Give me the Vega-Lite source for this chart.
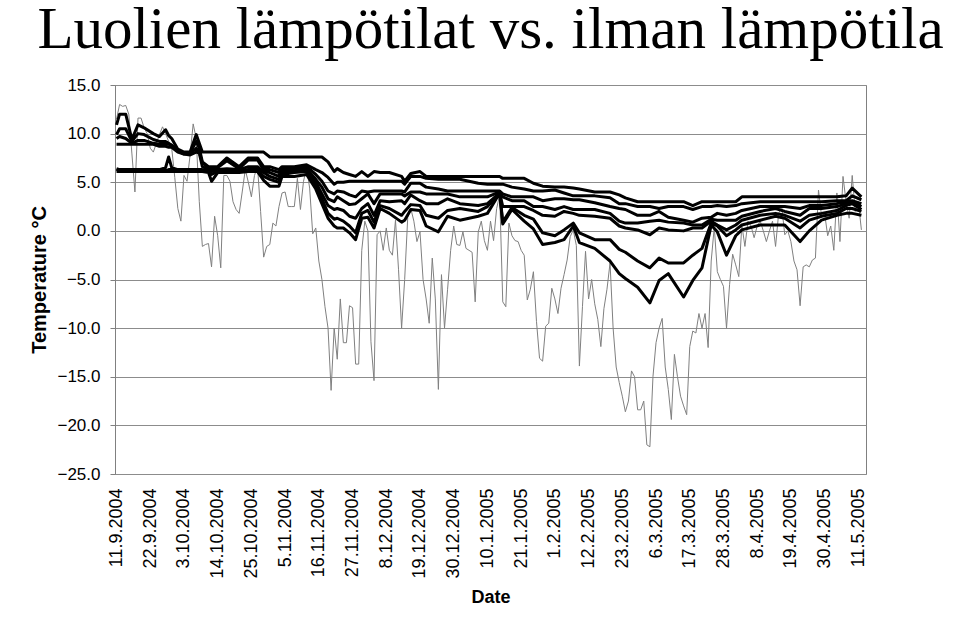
{
"$schema": "https://vega.github.io/schema/vega-lite/v6.json",
"width": 751, "height": 389,
"autosize": {"type": "none"},
"padding": {"left": 115, "top": 85, "right": 94, "bottom": 168},
"background": "white",
"config": {"view": {"stroke": "#808080", "strokeWidth": 1}, "font": "Liberation Sans"},
"title": {"text": "Luolien lämpötilat vs. ilman lämpötila", "font": "Liberation Serif", "fontSize": 59, "fontWeight": "normal", "anchor": "middle", "baseline": "bottom", "offset": 10, "dy": 53, "color": "black"},
"datasets": {
"air": [
{"date":"2004-09-11","t":11.5},{"date":"2004-09-12","t":13.0},{"date":"2004-09-13","t":12.8},{"date":"2004-09-14","t":12.9},{"date":"2004-09-15","t":12.0},{"date":"2004-09-16","t":8.0},{"date":"2004-09-17","t":4.0},{"date":"2004-09-18","t":11.6},{"date":"2004-09-19","t":11.6},{"date":"2004-09-20","t":10.6},
{"date":"2004-09-21","t":10.0},{"date":"2004-09-22","t":8.5},{"date":"2004-09-23","t":8.1},{"date":"2004-09-24","t":9.0},{"date":"2004-09-25","t":9.9},{"date":"2004-09-26","t":10.7},{"date":"2004-09-27","t":10.0},{"date":"2004-09-28","t":9.2},{"date":"2004-09-29","t":8.5},{"date":"2004-09-30","t":5.5},
{"date":"2004-10-01","t":2.3},{"date":"2004-10-02","t":1.0},{"date":"2004-10-03","t":5.7},{"date":"2004-10-04","t":5.1},{"date":"2004-10-05","t":7.8},{"date":"2004-10-06","t":11.0},{"date":"2004-10-07","t":9.5},{"date":"2004-10-08","t":3.0},{"date":"2004-10-09","t":-1.6},{"date":"2004-10-10","t":-1.4},
{"date":"2004-10-11","t":-1.3},{"date":"2004-10-12","t":-3.7},{"date":"2004-10-13","t":1.5},{"date":"2004-10-14","t":-0.5},{"date":"2004-10-15","t":-3.8},{"date":"2004-10-16","t":5.7},{"date":"2004-10-17","t":5.7},{"date":"2004-10-18","t":5.1},{"date":"2004-10-19","t":3.0},{"date":"2004-10-20","t":2.2},
{"date":"2004-10-21","t":1.8},{"date":"2004-10-22","t":4.0},{"date":"2004-10-23","t":6.3},{"date":"2004-10-24","t":5.0},{"date":"2004-10-25","t":3.5},{"date":"2004-10-26","t":5.7},{"date":"2004-10-27","t":6.6},{"date":"2004-10-28","t":2.0},{"date":"2004-10-29","t":-2.7},{"date":"2004-10-30","t":-1.6},
{"date":"2004-10-31","t":-1.4},{"date":"2004-11-01","t":0.8},{"date":"2004-11-02","t":0.5},{"date":"2004-11-03","t":2.5},{"date":"2004-11-04","t":3.9},{"date":"2004-11-05","t":4.0},{"date":"2004-11-06","t":2.5},{"date":"2004-11-07","t":2.5},{"date":"2004-11-08","t":2.5},{"date":"2004-11-09","t":5.4},
{"date":"2004-11-10","t":2.2},{"date":"2004-11-11","t":5.1},{"date":"2004-11-12","t":6.5},{"date":"2004-11-13","t":4.4},{"date":"2004-11-14","t":-0.3},{"date":"2004-11-15","t":0.3},{"date":"2004-11-16","t":-3.1},{"date":"2004-11-17","t":-5.0},{"date":"2004-11-18","t":-7.8},{"date":"2004-11-19","t":-10.0},
{"date":"2004-11-20","t":-16.4},{"date":"2004-11-21","t":-10.0},{"date":"2004-11-22","t":-13.2},{"date":"2004-11-23","t":-7.0},{"date":"2004-11-24","t":-11.5},{"date":"2004-11-25","t":-11.5},{"date":"2004-11-26","t":-7.7},{"date":"2004-11-27","t":-7.9},{"date":"2004-11-28","t":-13.7},{"date":"2004-11-29","t":-13.7},
{"date":"2004-11-30","t":-2.0},{"date":"2004-12-01","t":1.0},{"date":"2004-12-02","t":0.0},{"date":"2004-12-03","t":-11.4},{"date":"2004-12-04","t":-15.4},{"date":"2004-12-05","t":-0.4},{"date":"2004-12-06","t":0.0},{"date":"2004-12-07","t":-2.0},{"date":"2004-12-08","t":0.3},{"date":"2004-12-09","t":-2.0},
{"date":"2004-12-10","t":-2.5},{"date":"2004-12-11","t":1.1},{"date":"2004-12-12","t":-4.0},{"date":"2004-12-13","t":-10.0},{"date":"2004-12-14","t":-5.0},{"date":"2004-12-15","t":1.4},{"date":"2004-12-16","t":2.3},{"date":"2004-12-17","t":1.0},{"date":"2004-12-18","t":-1.1},{"date":"2004-12-19","t":-0.1},
{"date":"2004-12-20","t":-5.0},{"date":"2004-12-21","t":-7.0},{"date":"2004-12-22","t":-9.5},{"date":"2004-12-23","t":-2.8},{"date":"2004-12-24","t":-7.0},{"date":"2004-12-25","t":-16.3},{"date":"2004-12-26","t":-4.5},{"date":"2004-12-27","t":-10.0},{"date":"2004-12-28","t":-6.0},{"date":"2004-12-29","t":-2.0},
{"date":"2004-12-30","t":0.5},{"date":"2004-12-31","t":-1.4},{"date":"2005-01-01","t":-1.5},{"date":"2005-01-02","t":-0.1},{"date":"2005-01-03","t":-1.8},{"date":"2005-01-04","t":-2.0},{"date":"2005-01-05","t":-2.2},{"date":"2005-01-06","t":-7.3},{"date":"2005-01-07","t":-0.1},{"date":"2005-01-08","t":1.0},
{"date":"2005-01-09","t":-1.0},{"date":"2005-01-10","t":-2.0},{"date":"2005-01-11","t":1.0},{"date":"2005-01-12","t":-1.0},{"date":"2005-01-13","t":2.3},{"date":"2005-01-14","t":3.7},{"date":"2005-01-15","t":-7.3},{"date":"2005-01-16","t":-7.8},{"date":"2005-01-17","t":0.8},{"date":"2005-01-18","t":-0.5},
{"date":"2005-01-19","t":-1.0},{"date":"2005-01-20","t":-1.1},{"date":"2005-01-21","t":-2.0},{"date":"2005-01-22","t":-2.5},{"date":"2005-01-23","t":-7.1},{"date":"2005-01-24","t":-6.0},{"date":"2005-01-25","t":-4.2},{"date":"2005-01-26","t":-9.3},{"date":"2005-01-27","t":-13.1},{"date":"2005-01-28","t":-13.4},
{"date":"2005-01-29","t":-9.8},{"date":"2005-01-30","t":-9.5},{"date":"2005-01-31","t":-5.9},{"date":"2005-02-01","t":-7.0},{"date":"2005-02-02","t":-8.5},{"date":"2005-02-03","t":-5.9},{"date":"2005-02-04","t":-4.5},{"date":"2005-02-05","t":-3.0},{"date":"2005-02-06","t":-0.6},{"date":"2005-02-07","t":0.1},
{"date":"2005-02-08","t":-1.5},{"date":"2005-02-09","t":-13.9},{"date":"2005-02-10","t":-7.8},{"date":"2005-02-11","t":-2.1},{"date":"2005-02-12","t":-7.0},{"date":"2005-02-13","t":-5.0},{"date":"2005-02-14","t":-7.5},{"date":"2005-02-15","t":-9.1},{"date":"2005-02-16","t":-11.9},{"date":"2005-02-17","t":-8.0},
{"date":"2005-02-18","t":-6.0},{"date":"2005-02-19","t":-3.3},{"date":"2005-02-20","t":-10.0},{"date":"2005-02-21","t":-14.0},{"date":"2005-02-22","t":-15.6},{"date":"2005-02-23","t":-17.0},{"date":"2005-02-24","t":-18.6},{"date":"2005-02-25","t":-17.5},{"date":"2005-02-26","t":-14.4},{"date":"2005-02-27","t":-15.0},
{"date":"2005-02-28","t":-18.4},{"date":"2005-03-01","t":-18.4},{"date":"2005-03-02","t":-17.5},{"date":"2005-03-03","t":-22.0},{"date":"2005-03-04","t":-22.2},{"date":"2005-03-05","t":-15.0},{"date":"2005-03-06","t":-11.5},{"date":"2005-03-07","t":-10.0},{"date":"2005-03-08","t":-9.0},{"date":"2005-03-09","t":-14.0},
{"date":"2005-03-10","t":-16.3},{"date":"2005-03-11","t":-19.4},{"date":"2005-03-12","t":-12.7},{"date":"2005-03-13","t":-15.0},{"date":"2005-03-14","t":-17.0},{"date":"2005-03-15","t":-18.0},{"date":"2005-03-16","t":-18.9},{"date":"2005-03-17","t":-11.9},{"date":"2005-03-18","t":-10.3},{"date":"2005-03-19","t":-10.5},
{"date":"2005-03-20","t":-8.5},{"date":"2005-03-21","t":-10.0},{"date":"2005-03-22","t":-8.5},{"date":"2005-03-23","t":-12.0},{"date":"2005-03-24","t":-3.1},{"date":"2005-03-25","t":0.4},{"date":"2005-03-26","t":-4.2},{"date":"2005-03-27","t":-5.0},{"date":"2005-03-28","t":-5.7},{"date":"2005-03-29","t":-10.0},
{"date":"2005-03-30","t":-5.5},{"date":"2005-03-31","t":-2.4},{"date":"2005-04-01","t":-3.5},{"date":"2005-04-02","t":-4.7},{"date":"2005-04-03","t":0.6},{"date":"2005-04-04","t":-1.6},{"date":"2005-04-05","t":1.0},{"date":"2005-04-06","t":0.5},{"date":"2005-04-07","t":-0.7},{"date":"2005-04-08","t":0.5},
{"date":"2005-04-09","t":1.0},{"date":"2005-04-10","t":0.0},{"date":"2005-04-11","t":-1.1},{"date":"2005-04-12","t":0.0},{"date":"2005-04-13","t":1.0},{"date":"2005-04-14","t":-1.6},{"date":"2005-04-15","t":1.8},{"date":"2005-04-16","t":2.5},{"date":"2005-04-17","t":-0.4},{"date":"2005-04-18","t":0.0},
{"date":"2005-04-19","t":-1.1},{"date":"2005-04-20","t":-3.1},{"date":"2005-04-21","t":-4.0},{"date":"2005-04-22","t":-7.7},{"date":"2005-04-23","t":-3.7},{"date":"2005-04-24","t":-3.5},{"date":"2005-04-25","t":-3.7},{"date":"2005-04-26","t":-3.0},{"date":"2005-04-27","t":-2.8},{"date":"2005-04-28","t":4.2},
{"date":"2005-04-29","t":1.5},{"date":"2005-04-30","t":1.8},{"date":"2005-05-01","t":-0.5},{"date":"2005-05-02","t":0.5},{"date":"2005-05-03","t":-2.0},{"date":"2005-05-04","t":3.9},{"date":"2005-05-05","t":-1.1},{"date":"2005-05-06","t":5.6},{"date":"2005-05-07","t":3.0},{"date":"2005-05-08","t":1.3},
{"date":"2005-05-09","t":5.7},{"date":"2005-05-10","t":2.0},{"date":"2005-05-11","t":3.0},{"date":"2005-05-12","t":0.1}
],
"caves": [
{"date":"2004-09-11","cave":1,"t":10.9},{"date":"2004-09-11","cave":2,"t":9.9},{"date":"2004-09-11","cave":3,"t":9.5},{"date":"2004-09-11","cave":4,"t":8.9},{"date":"2004-09-11","cave":5,"t":6.4},{"date":"2004-09-11","cave":6,"t":6.3},{"date":"2004-09-11","cave":7,"t":6.1},
{"date":"2004-09-12","cave":1,"t":12.0},{"date":"2004-09-12","cave":2,"t":10.5},{"date":"2004-09-12","cave":3,"t":9.7},{"date":"2004-09-12","cave":4,"t":8.9},{"date":"2004-09-12","cave":5,"t":6.3},{"date":"2004-09-12","cave":6,"t":6.2},{"date":"2004-09-12","cave":7,"t":6.1},
{"date":"2004-09-14","cave":1,"t":12.0},{"date":"2004-09-14","cave":2,"t":10.5},{"date":"2004-09-14","cave":3,"t":9.5},{"date":"2004-09-14","cave":4,"t":8.9},{"date":"2004-09-14","cave":5,"t":6.3},{"date":"2004-09-14","cave":6,"t":6.2},{"date":"2004-09-14","cave":7,"t":6.1},
{"date":"2004-09-16","cave":1,"t":9.4},{"date":"2004-09-16","cave":2,"t":9.2},{"date":"2004-09-16","cave":3,"t":9.0},{"date":"2004-09-16","cave":4,"t":8.9},{"date":"2004-09-16","cave":5,"t":6.3},{"date":"2004-09-16","cave":6,"t":6.2},{"date":"2004-09-16","cave":7,"t":6.1},
{"date":"2004-09-18","cave":1,"t":10.9},{"date":"2004-09-18","cave":2,"t":10.0},{"date":"2004-09-18","cave":3,"t":9.3},{"date":"2004-09-18","cave":4,"t":8.9},{"date":"2004-09-18","cave":5,"t":6.3},{"date":"2004-09-18","cave":6,"t":6.2},{"date":"2004-09-18","cave":7,"t":6.1},
{"date":"2004-09-20","cave":1,"t":10.6},{"date":"2004-09-20","cave":2,"t":9.9},{"date":"2004-09-20","cave":3,"t":9.3},{"date":"2004-09-20","cave":4,"t":8.9},{"date":"2004-09-20","cave":5,"t":6.3},{"date":"2004-09-20","cave":6,"t":6.2},{"date":"2004-09-20","cave":7,"t":6.1},
{"date":"2004-09-23","cave":1,"t":10.0},{"date":"2004-09-23","cave":2,"t":9.4},{"date":"2004-09-23","cave":3,"t":9.0},{"date":"2004-09-23","cave":4,"t":8.9},{"date":"2004-09-23","cave":5,"t":6.3},{"date":"2004-09-23","cave":6,"t":6.2},{"date":"2004-09-23","cave":7,"t":6.1},
{"date":"2004-09-25","cave":1,"t":9.7},{"date":"2004-09-25","cave":2,"t":9.2},{"date":"2004-09-25","cave":3,"t":8.9},{"date":"2004-09-25","cave":4,"t":8.7},{"date":"2004-09-25","cave":5,"t":6.3},{"date":"2004-09-25","cave":6,"t":6.2},{"date":"2004-09-25","cave":7,"t":6.1},
{"date":"2004-09-27","cave":1,"t":10.4},{"date":"2004-09-27","cave":2,"t":9.2},{"date":"2004-09-27","cave":3,"t":8.9},{"date":"2004-09-27","cave":4,"t":8.7},{"date":"2004-09-27","cave":5,"t":6.5},{"date":"2004-09-27","cave":6,"t":6.2},{"date":"2004-09-27","cave":7,"t":6.1},
{"date":"2004-09-28","cave":1,"t":9.8},{"date":"2004-09-28","cave":2,"t":9.0},{"date":"2004-09-28","cave":3,"t":8.9},{"date":"2004-09-28","cave":4,"t":8.6},{"date":"2004-09-28","cave":5,"t":7.6},{"date":"2004-09-28","cave":6,"t":6.3},{"date":"2004-09-28","cave":7,"t":6.1},
{"date":"2004-09-29","cave":1,"t":9.5},{"date":"2004-09-29","cave":2,"t":8.8},{"date":"2004-09-29","cave":3,"t":8.8},{"date":"2004-09-29","cave":4,"t":8.6},{"date":"2004-09-29","cave":5,"t":6.5},{"date":"2004-09-29","cave":6,"t":6.3},{"date":"2004-09-29","cave":7,"t":6.1},
{"date":"2004-10-01","cave":1,"t":8.4},{"date":"2004-10-01","cave":2,"t":8.3},{"date":"2004-10-01","cave":3,"t":8.2},{"date":"2004-10-01","cave":4,"t":8.1},{"date":"2004-10-01","cave":5,"t":6.3},{"date":"2004-10-01","cave":6,"t":6.3},{"date":"2004-10-01","cave":7,"t":6.1},
{"date":"2004-10-03","cave":1,"t":8.1},{"date":"2004-10-03","cave":2,"t":8.0},{"date":"2004-10-03","cave":3,"t":7.9},{"date":"2004-10-03","cave":4,"t":7.9},{"date":"2004-10-03","cave":5,"t":6.3},{"date":"2004-10-03","cave":6,"t":6.2},{"date":"2004-10-03","cave":7,"t":6.1},
{"date":"2004-10-05","cave":1,"t":8.1},{"date":"2004-10-05","cave":2,"t":8.0},{"date":"2004-10-05","cave":3,"t":7.9},{"date":"2004-10-05","cave":4,"t":7.8},{"date":"2004-10-05","cave":5,"t":6.3},{"date":"2004-10-05","cave":6,"t":6.2},{"date":"2004-10-05","cave":7,"t":6.1},
{"date":"2004-10-07","cave":1,"t":9.9},{"date":"2004-10-07","cave":2,"t":9.2},{"date":"2004-10-07","cave":3,"t":8.5},{"date":"2004-10-07","cave":4,"t":8.1},{"date":"2004-10-07","cave":5,"t":6.3},{"date":"2004-10-07","cave":6,"t":6.2},{"date":"2004-10-07","cave":7,"t":6.1},
{"date":"2004-10-08","cave":1,"t":9.0},{"date":"2004-10-08","cave":2,"t":8.5},{"date":"2004-10-08","cave":3,"t":8.1},{"date":"2004-10-08","cave":4,"t":8.0},{"date":"2004-10-08","cave":5,"t":6.3},{"date":"2004-10-08","cave":6,"t":6.2},{"date":"2004-10-08","cave":7,"t":6.1},
{"date":"2004-10-09","cave":1,"t":8.1},{"date":"2004-10-09","cave":2,"t":7.1},{"date":"2004-10-09","cave":3,"t":7.0},{"date":"2004-10-09","cave":4,"t":6.6},{"date":"2004-10-09","cave":5,"t":6.3},{"date":"2004-10-09","cave":6,"t":6.2},{"date":"2004-10-09","cave":7,"t":6.1},
{"date":"2004-10-11","cave":1,"t":8.1},{"date":"2004-10-11","cave":2,"t":6.6},{"date":"2004-10-11","cave":3,"t":6.5},{"date":"2004-10-11","cave":4,"t":6.3},{"date":"2004-10-11","cave":5,"t":6.2},{"date":"2004-10-11","cave":6,"t":6.1},{"date":"2004-10-11","cave":7,"t":6.0},
{"date":"2004-10-12","cave":1,"t":8.1},{"date":"2004-10-12","cave":2,"t":6.6},{"date":"2004-10-12","cave":3,"t":6.3},{"date":"2004-10-12","cave":4,"t":6.2},{"date":"2004-10-12","cave":5,"t":6.1},{"date":"2004-10-12","cave":6,"t":5.8},{"date":"2004-10-12","cave":7,"t":5.1},
{"date":"2004-10-14","cave":1,"t":8.1},{"date":"2004-10-14","cave":2,"t":6.6},{"date":"2004-10-14","cave":3,"t":6.5},{"date":"2004-10-14","cave":4,"t":6.3},{"date":"2004-10-14","cave":5,"t":6.2},{"date":"2004-10-14","cave":6,"t":6.1},{"date":"2004-10-14","cave":7,"t":6.0},
{"date":"2004-10-17","cave":1,"t":8.1},{"date":"2004-10-17","cave":2,"t":7.5},{"date":"2004-10-17","cave":3,"t":7.2},{"date":"2004-10-17","cave":4,"t":6.4},{"date":"2004-10-17","cave":5,"t":6.3},{"date":"2004-10-17","cave":6,"t":6.2},{"date":"2004-10-17","cave":7,"t":6.0},
{"date":"2004-10-21","cave":1,"t":8.1},{"date":"2004-10-21","cave":2,"t":6.6},{"date":"2004-10-21","cave":3,"t":6.4},{"date":"2004-10-21","cave":4,"t":6.3},{"date":"2004-10-21","cave":5,"t":6.2},{"date":"2004-10-21","cave":6,"t":6.1},{"date":"2004-10-21","cave":7,"t":6.0},
{"date":"2004-10-24","cave":1,"t":8.1},{"date":"2004-10-24","cave":2,"t":7.5},{"date":"2004-10-24","cave":3,"t":7.3},{"date":"2004-10-24","cave":4,"t":6.6},{"date":"2004-10-24","cave":5,"t":6.3},{"date":"2004-10-24","cave":6,"t":6.2},{"date":"2004-10-24","cave":7,"t":6.1},
{"date":"2004-10-27","cave":1,"t":8.1},{"date":"2004-10-27","cave":2,"t":7.5},{"date":"2004-10-27","cave":3,"t":7.3},{"date":"2004-10-27","cave":4,"t":6.6},{"date":"2004-10-27","cave":5,"t":6.3},{"date":"2004-10-27","cave":6,"t":6.2},{"date":"2004-10-27","cave":7,"t":6.1},
{"date":"2004-10-29","cave":1,"t":8.1},{"date":"2004-10-29","cave":2,"t":6.6},{"date":"2004-10-29","cave":3,"t":6.3},{"date":"2004-10-29","cave":4,"t":6.1},{"date":"2004-10-29","cave":5,"t":6.0},{"date":"2004-10-29","cave":6,"t":5.6},{"date":"2004-10-29","cave":7,"t":5.2},
{"date":"2004-10-31","cave":1,"t":7.6},{"date":"2004-10-31","cave":2,"t":6.6},{"date":"2004-10-31","cave":3,"t":6.3},{"date":"2004-10-31","cave":4,"t":6.0},{"date":"2004-10-31","cave":5,"t":5.6},{"date":"2004-10-31","cave":6,"t":5.3},{"date":"2004-10-31","cave":7,"t":4.6},
{"date":"2004-11-03","cave":1,"t":7.6},{"date":"2004-11-03","cave":2,"t":6.3},{"date":"2004-11-03","cave":3,"t":6.0},{"date":"2004-11-03","cave":4,"t":5.6},{"date":"2004-11-03","cave":5,"t":5.3},{"date":"2004-11-03","cave":6,"t":5.0},{"date":"2004-11-03","cave":7,"t":4.6},
{"date":"2004-11-04","cave":1,"t":7.6},{"date":"2004-11-04","cave":2,"t":6.6},{"date":"2004-11-04","cave":3,"t":6.3},{"date":"2004-11-04","cave":4,"t":6.1},{"date":"2004-11-04","cave":5,"t":6.0},{"date":"2004-11-04","cave":6,"t":5.8},{"date":"2004-11-04","cave":7,"t":5.6},
{"date":"2004-11-08","cave":1,"t":7.6},{"date":"2004-11-08","cave":2,"t":6.6},{"date":"2004-11-08","cave":3,"t":6.4},{"date":"2004-11-08","cave":4,"t":6.3},{"date":"2004-11-08","cave":5,"t":6.1},{"date":"2004-11-08","cave":6,"t":6.0},{"date":"2004-11-08","cave":7,"t":5.6},
{"date":"2004-11-12","cave":1,"t":7.6},{"date":"2004-11-12","cave":2,"t":6.8},{"date":"2004-11-12","cave":3,"t":6.6},{"date":"2004-11-12","cave":4,"t":6.4},{"date":"2004-11-12","cave":5,"t":6.3},{"date":"2004-11-12","cave":6,"t":6.1},{"date":"2004-11-12","cave":7,"t":5.8},
{"date":"2004-11-15","cave":1,"t":7.6},{"date":"2004-11-15","cave":2,"t":6.3},{"date":"2004-11-15","cave":3,"t":5.8},{"date":"2004-11-15","cave":4,"t":5.3},{"date":"2004-11-15","cave":5,"t":5.0},{"date":"2004-11-15","cave":6,"t":4.6},{"date":"2004-11-15","cave":7,"t":4.3},
{"date":"2004-11-17","cave":1,"t":7.6},{"date":"2004-11-17","cave":2,"t":6.0},{"date":"2004-11-17","cave":3,"t":5.1},{"date":"2004-11-17","cave":4,"t":4.5},{"date":"2004-11-17","cave":5,"t":3.8},{"date":"2004-11-17","cave":6,"t":3.3},{"date":"2004-11-17","cave":7,"t":2.8},
{"date":"2004-11-19","cave":1,"t":7.1},{"date":"2004-11-19","cave":2,"t":5.5},{"date":"2004-11-19","cave":3,"t":4.1},{"date":"2004-11-19","cave":4,"t":3.3},{"date":"2004-11-19","cave":5,"t":2.6},{"date":"2004-11-19","cave":6,"t":1.8},{"date":"2004-11-19","cave":7,"t":1.3},
{"date":"2004-11-21","cave":1,"t":6.1},{"date":"2004-11-21","cave":2,"t":4.8},{"date":"2004-11-21","cave":3,"t":3.8},{"date":"2004-11-21","cave":4,"t":3.0},{"date":"2004-11-21","cave":5,"t":2.2},{"date":"2004-11-21","cave":6,"t":1.2},{"date":"2004-11-21","cave":7,"t":0.5},
{"date":"2004-11-22","cave":1,"t":6.4},{"date":"2004-11-22","cave":2,"t":5.0},{"date":"2004-11-22","cave":3,"t":4.1},{"date":"2004-11-22","cave":4,"t":3.5},{"date":"2004-11-22","cave":5,"t":2.3},{"date":"2004-11-22","cave":6,"t":1.3},{"date":"2004-11-22","cave":7,"t":0.3},
{"date":"2004-11-24","cave":1,"t":6.0},{"date":"2004-11-24","cave":2,"t":5.0},{"date":"2004-11-24","cave":3,"t":4.0},{"date":"2004-11-24","cave":4,"t":3.1},{"date":"2004-11-24","cave":5,"t":2.1},{"date":"2004-11-24","cave":6,"t":1.0},{"date":"2004-11-24","cave":7,"t":0.3},
{"date":"2004-11-26","cave":1,"t":5.8},{"date":"2004-11-26","cave":2,"t":5.1},{"date":"2004-11-26","cave":3,"t":3.7},{"date":"2004-11-26","cave":4,"t":2.7},{"date":"2004-11-26","cave":5,"t":1.5},{"date":"2004-11-26","cave":6,"t":0.5},{"date":"2004-11-26","cave":7,"t":-0.2},
{"date":"2004-11-28","cave":1,"t":5.6},{"date":"2004-11-28","cave":2,"t":5.1},{"date":"2004-11-28","cave":3,"t":3.5},{"date":"2004-11-28","cave":4,"t":2.8},{"date":"2004-11-28","cave":5,"t":1.3},{"date":"2004-11-28","cave":6,"t":-0.2},{"date":"2004-11-28","cave":7,"t":-0.9},
{"date":"2004-11-30","cave":1,"t":6.1},{"date":"2004-11-30","cave":2,"t":5.1},{"date":"2004-11-30","cave":3,"t":4.1},{"date":"2004-11-30","cave":4,"t":3.3},{"date":"2004-11-30","cave":5,"t":2.3},{"date":"2004-11-30","cave":6,"t":1.8},{"date":"2004-11-30","cave":7,"t":1.3},
{"date":"2004-12-02","cave":1,"t":5.6},{"date":"2004-12-02","cave":2,"t":5.1},{"date":"2004-12-02","cave":3,"t":4.0},{"date":"2004-12-02","cave":4,"t":3.8},{"date":"2004-12-02","cave":5,"t":2.8},{"date":"2004-12-02","cave":6,"t":2.1},{"date":"2004-12-02","cave":7,"t":1.4},
{"date":"2004-12-04","cave":1,"t":6.1},{"date":"2004-12-04","cave":2,"t":5.1},{"date":"2004-12-04","cave":3,"t":4.1},{"date":"2004-12-04","cave":4,"t":2.8},{"date":"2004-12-04","cave":5,"t":1.6},{"date":"2004-12-04","cave":6,"t":0.9},{"date":"2004-12-04","cave":7,"t":0.3},
{"date":"2004-12-06","cave":1,"t":6.0},{"date":"2004-12-06","cave":2,"t":5.1},{"date":"2004-12-06","cave":3,"t":4.1},{"date":"2004-12-06","cave":4,"t":3.8},{"date":"2004-12-06","cave":5,"t":3.1},{"date":"2004-12-06","cave":6,"t":2.6},{"date":"2004-12-06","cave":7,"t":2.3},
{"date":"2004-12-09","cave":1,"t":6.0},{"date":"2004-12-09","cave":2,"t":5.1},{"date":"2004-12-09","cave":3,"t":4.1},{"date":"2004-12-09","cave":4,"t":3.8},{"date":"2004-12-09","cave":5,"t":3.0},{"date":"2004-12-09","cave":6,"t":2.3},{"date":"2004-12-09","cave":7,"t":1.8},
{"date":"2004-12-13","cave":1,"t":5.6},{"date":"2004-12-13","cave":2,"t":5.1},{"date":"2004-12-13","cave":3,"t":4.1},{"date":"2004-12-13","cave":4,"t":3.8},{"date":"2004-12-13","cave":5,"t":3.1},{"date":"2004-12-13","cave":6,"t":1.6},{"date":"2004-12-13","cave":7,"t":0.9},
{"date":"2004-12-14","cave":1,"t":5.1},{"date":"2004-12-14","cave":2,"t":4.8},{"date":"2004-12-14","cave":3,"t":4.0},{"date":"2004-12-14","cave":4,"t":3.6},{"date":"2004-12-14","cave":5,"t":2.8},{"date":"2004-12-14","cave":6,"t":2.0},{"date":"2004-12-14","cave":7,"t":1.1},
{"date":"2004-12-16","cave":1,"t":5.9},{"date":"2004-12-16","cave":2,"t":5.6},{"date":"2004-12-16","cave":3,"t":4.9},{"date":"2004-12-16","cave":4,"t":4.0},{"date":"2004-12-16","cave":5,"t":3.7},{"date":"2004-12-16","cave":6,"t":2.7},{"date":"2004-12-16","cave":7,"t":2.2},
{"date":"2004-12-19","cave":1,"t":6.1},{"date":"2004-12-19","cave":2,"t":5.6},{"date":"2004-12-19","cave":3,"t":4.9},{"date":"2004-12-19","cave":4,"t":4.0},{"date":"2004-12-19","cave":5,"t":3.1},{"date":"2004-12-19","cave":6,"t":2.6},{"date":"2004-12-19","cave":7,"t":2.1},
{"date":"2004-12-21","cave":1,"t":5.6},{"date":"2004-12-21","cave":2,"t":5.4},{"date":"2004-12-21","cave":3,"t":4.5},{"date":"2004-12-21","cave":4,"t":3.8},{"date":"2004-12-21","cave":5,"t":2.8},{"date":"2004-12-21","cave":6,"t":1.6},{"date":"2004-12-21","cave":7,"t":0.5},
{"date":"2004-12-25","cave":1,"t":5.6},{"date":"2004-12-25","cave":2,"t":5.3},{"date":"2004-12-25","cave":3,"t":4.3},{"date":"2004-12-25","cave":4,"t":3.8},{"date":"2004-12-25","cave":5,"t":2.8},{"date":"2004-12-25","cave":6,"t":1.3},{"date":"2004-12-25","cave":7,"t":-0.1},
{"date":"2004-12-28","cave":1,"t":5.6},{"date":"2004-12-28","cave":2,"t":5.3},{"date":"2004-12-28","cave":3,"t":4.1},{"date":"2004-12-28","cave":4,"t":3.8},{"date":"2004-12-28","cave":5,"t":3.3},{"date":"2004-12-28","cave":6,"t":2.1},{"date":"2004-12-28","cave":7,"t":1.5},
{"date":"2005-01-01","cave":1,"t":5.6},{"date":"2005-01-01","cave":2,"t":5.3},{"date":"2005-01-01","cave":3,"t":4.1},{"date":"2005-01-01","cave":4,"t":3.5},{"date":"2005-01-01","cave":5,"t":2.8},{"date":"2005-01-01","cave":6,"t":2.3},{"date":"2005-01-01","cave":7,"t":1.1},
{"date":"2005-01-07","cave":1,"t":5.6},{"date":"2005-01-07","cave":2,"t":4.9},{"date":"2005-01-07","cave":3,"t":4.1},{"date":"2005-01-07","cave":4,"t":3.5},{"date":"2005-01-07","cave":5,"t":2.6},{"date":"2005-01-07","cave":6,"t":2.0},{"date":"2005-01-07","cave":7,"t":1.5},
{"date":"2005-01-10","cave":1,"t":5.6},{"date":"2005-01-10","cave":2,"t":4.8},{"date":"2005-01-10","cave":3,"t":4.1},{"date":"2005-01-10","cave":4,"t":3.5},{"date":"2005-01-10","cave":5,"t":2.8},{"date":"2005-01-10","cave":6,"t":2.5},{"date":"2005-01-10","cave":7,"t":1.8},
{"date":"2005-01-14","cave":1,"t":5.6},{"date":"2005-01-14","cave":2,"t":4.8},{"date":"2005-01-14","cave":3,"t":4.1},{"date":"2005-01-14","cave":4,"t":4.0},{"date":"2005-01-14","cave":5,"t":3.9},{"date":"2005-01-14","cave":6,"t":3.9},{"date":"2005-01-14","cave":7,"t":3.9},
{"date":"2005-01-15","cave":1,"t":5.4},{"date":"2005-01-15","cave":2,"t":4.8},{"date":"2005-01-15","cave":3,"t":3.8},{"date":"2005-01-15","cave":4,"t":3.5},{"date":"2005-01-15","cave":5,"t":2.5},{"date":"2005-01-15","cave":6,"t":0.9},{"date":"2005-01-15","cave":7,"t":0.7},
{"date":"2005-01-18","cave":1,"t":5.4},{"date":"2005-01-18","cave":2,"t":4.5},{"date":"2005-01-18","cave":3,"t":3.5},{"date":"2005-01-18","cave":4,"t":3.1},{"date":"2005-01-18","cave":5,"t":2.5},{"date":"2005-01-18","cave":6,"t":2.4},{"date":"2005-01-18","cave":7,"t":2.2},
{"date":"2005-01-22","cave":1,"t":5.4},{"date":"2005-01-22","cave":2,"t":4.3},{"date":"2005-01-22","cave":3,"t":3.5},{"date":"2005-01-22","cave":4,"t":3.1},{"date":"2005-01-22","cave":5,"t":2.5},{"date":"2005-01-22","cave":6,"t":1.6},{"date":"2005-01-22","cave":7,"t":1.0},
{"date":"2005-01-25","cave":1,"t":4.9},{"date":"2005-01-25","cave":2,"t":4.1},{"date":"2005-01-25","cave":3,"t":3.5},{"date":"2005-01-25","cave":4,"t":2.5},{"date":"2005-01-25","cave":5,"t":2.1},{"date":"2005-01-25","cave":6,"t":1.2},{"date":"2005-01-25","cave":7,"t":0.2},
{"date":"2005-01-28","cave":1,"t":4.6},{"date":"2005-01-28","cave":2,"t":4.1},{"date":"2005-01-28","cave":3,"t":3.1},{"date":"2005-01-28","cave":4,"t":2.5},{"date":"2005-01-28","cave":5,"t":1.6},{"date":"2005-01-28","cave":6,"t":-0.2},{"date":"2005-01-28","cave":7,"t":-1.4},
{"date":"2005-02-01","cave":1,"t":4.5},{"date":"2005-02-01","cave":2,"t":4.2},{"date":"2005-02-01","cave":3,"t":3.3},{"date":"2005-02-01","cave":4,"t":2.2},{"date":"2005-02-01","cave":5,"t":1.5},{"date":"2005-02-01","cave":6,"t":-0.5},{"date":"2005-02-01","cave":7,"t":-1.2},
{"date":"2005-02-04","cave":1,"t":4.5},{"date":"2005-02-04","cave":2,"t":3.9},{"date":"2005-02-04","cave":3,"t":3.3},{"date":"2005-02-04","cave":4,"t":2.5},{"date":"2005-02-04","cave":5,"t":2.0},{"date":"2005-02-04","cave":6,"t":0.1},{"date":"2005-02-04","cave":7,"t":-0.9},
{"date":"2005-02-07","cave":1,"t":4.4},{"date":"2005-02-07","cave":2,"t":3.6},{"date":"2005-02-07","cave":3,"t":3.2},{"date":"2005-02-07","cave":4,"t":2.2},{"date":"2005-02-07","cave":5,"t":1.8},{"date":"2005-02-07","cave":6,"t":0.8},{"date":"2005-02-07","cave":7,"t":0.5},
{"date":"2005-02-09","cave":1,"t":4.3},{"date":"2005-02-09","cave":2,"t":3.6},{"date":"2005-02-09","cave":3,"t":3.2},{"date":"2005-02-09","cave":4,"t":2.2},{"date":"2005-02-09","cave":5,"t":1.6},{"date":"2005-02-09","cave":6,"t":-0.2},{"date":"2005-02-09","cave":7,"t":-1.2},
{"date":"2005-02-14","cave":1,"t":4.0},{"date":"2005-02-14","cave":2,"t":3.6},{"date":"2005-02-14","cave":3,"t":2.9},{"date":"2005-02-14","cave":4,"t":2.2},{"date":"2005-02-14","cave":5,"t":1.5},{"date":"2005-02-14","cave":6,"t":-0.9},{"date":"2005-02-14","cave":7,"t":-1.8},
{"date":"2005-02-19","cave":1,"t":4.0},{"date":"2005-02-19","cave":2,"t":3.4},{"date":"2005-02-19","cave":3,"t":2.5},{"date":"2005-02-19","cave":4,"t":1.8},{"date":"2005-02-19","cave":5,"t":1.3},{"date":"2005-02-19","cave":6,"t":-0.9},{"date":"2005-02-19","cave":7,"t":-3.1},
{"date":"2005-02-22","cave":1,"t":3.7},{"date":"2005-02-22","cave":2,"t":2.8},{"date":"2005-02-22","cave":3,"t":2.3},{"date":"2005-02-22","cave":4,"t":1.0},{"date":"2005-02-22","cave":5,"t":0.5},{"date":"2005-02-22","cave":6,"t":-1.9},{"date":"2005-02-22","cave":7,"t":-4.4},
{"date":"2005-02-24","cave":1,"t":3.4},{"date":"2005-02-24","cave":2,"t":2.8},{"date":"2005-02-24","cave":3,"t":2.2},{"date":"2005-02-24","cave":4,"t":0.8},{"date":"2005-02-24","cave":5,"t":0.3},{"date":"2005-02-24","cave":6,"t":-2.2},{"date":"2005-02-24","cave":7,"t":-4.9},
{"date":"2005-02-28","cave":1,"t":3.0},{"date":"2005-02-28","cave":2,"t":2.5},{"date":"2005-02-28","cave":3,"t":1.6},{"date":"2005-02-28","cave":4,"t":0.8},{"date":"2005-02-28","cave":5,"t":0.1},{"date":"2005-02-28","cave":6,"t":-3.1},{"date":"2005-02-28","cave":7,"t":-5.8},
{"date":"2005-03-04","cave":1,"t":3.0},{"date":"2005-03-04","cave":2,"t":2.5},{"date":"2005-03-04","cave":3,"t":1.6},{"date":"2005-03-04","cave":4,"t":1.0},{"date":"2005-03-04","cave":5,"t":-0.4},{"date":"2005-03-04","cave":6,"t":-3.8},{"date":"2005-03-04","cave":7,"t":-7.4},
{"date":"2005-03-07","cave":1,"t":3.0},{"date":"2005-03-07","cave":2,"t":2.3},{"date":"2005-03-07","cave":3,"t":2.0},{"date":"2005-03-07","cave":4,"t":1.1},{"date":"2005-03-07","cave":5,"t":0.3},{"date":"2005-03-07","cave":6,"t":-2.8},{"date":"2005-03-07","cave":7,"t":-5.1},
{"date":"2005-03-10","cave":1,"t":3.0},{"date":"2005-03-10","cave":2,"t":2.5},{"date":"2005-03-10","cave":3,"t":1.4},{"date":"2005-03-10","cave":4,"t":0.9},{"date":"2005-03-10","cave":5,"t":0.1},{"date":"2005-03-10","cave":6,"t":-3.3},{"date":"2005-03-10","cave":7,"t":-4.4},
{"date":"2005-03-15","cave":1,"t":3.0},{"date":"2005-03-15","cave":2,"t":2.5},{"date":"2005-03-15","cave":3,"t":1.1},{"date":"2005-03-15","cave":4,"t":0.8},{"date":"2005-03-15","cave":5,"t":0.0},{"date":"2005-03-15","cave":6,"t":-3.3},{"date":"2005-03-15","cave":7,"t":-6.8},
{"date":"2005-03-18","cave":1,"t":2.6},{"date":"2005-03-18","cave":2,"t":2.2},{"date":"2005-03-18","cave":3,"t":0.9},{"date":"2005-03-18","cave":4,"t":0.6},{"date":"2005-03-18","cave":5,"t":0.3},{"date":"2005-03-18","cave":6,"t":-2.5},{"date":"2005-03-18","cave":7,"t":-5.1},
{"date":"2005-03-21","cave":1,"t":3.0},{"date":"2005-03-21","cave":2,"t":2.5},{"date":"2005-03-21","cave":3,"t":1.3},{"date":"2005-03-21","cave":4,"t":0.6},{"date":"2005-03-21","cave":5,"t":0.3},{"date":"2005-03-21","cave":6,"t":-1.8},{"date":"2005-03-21","cave":7,"t":-3.8},
{"date":"2005-03-24","cave":1,"t":3.0},{"date":"2005-03-24","cave":2,"t":2.5},{"date":"2005-03-24","cave":3,"t":1.4},{"date":"2005-03-24","cave":4,"t":1.2},{"date":"2005-03-24","cave":5,"t":1.0},{"date":"2005-03-24","cave":6,"t":0.8},{"date":"2005-03-24","cave":7,"t":0.6},
{"date":"2005-03-26","cave":1,"t":3.0},{"date":"2005-03-26","cave":2,"t":2.6},{"date":"2005-03-26","cave":3,"t":1.8},{"date":"2005-03-26","cave":4,"t":1.1},{"date":"2005-03-26","cave":5,"t":0.6},{"date":"2005-03-26","cave":6,"t":0.5},{"date":"2005-03-26","cave":7,"t":-0.1},
{"date":"2005-03-29","cave":1,"t":3.0},{"date":"2005-03-29","cave":2,"t":2.5},{"date":"2005-03-29","cave":3,"t":1.6},{"date":"2005-03-29","cave":4,"t":1.1},{"date":"2005-03-29","cave":5,"t":0.1},{"date":"2005-03-29","cave":6,"t":-0.5},{"date":"2005-03-29","cave":7,"t":-2.5},
{"date":"2005-04-01","cave":1,"t":3.0},{"date":"2005-04-01","cave":2,"t":2.6},{"date":"2005-04-01","cave":3,"t":1.8},{"date":"2005-04-01","cave":4,"t":1.1},{"date":"2005-04-01","cave":5,"t":0.6},{"date":"2005-04-01","cave":6,"t":0.1},{"date":"2005-04-01","cave":7,"t":-0.5},
{"date":"2005-04-03","cave":1,"t":3.5},{"date":"2005-04-03","cave":2,"t":2.8},{"date":"2005-04-03","cave":3,"t":2.1},{"date":"2005-04-03","cave":4,"t":1.5},{"date":"2005-04-03","cave":5,"t":1.1},{"date":"2005-04-03","cave":6,"t":0.6},{"date":"2005-04-03","cave":7,"t":0.1},
{"date":"2005-04-09","cave":1,"t":3.5},{"date":"2005-04-09","cave":2,"t":3.0},{"date":"2005-04-09","cave":3,"t":2.5},{"date":"2005-04-09","cave":4,"t":2.0},{"date":"2005-04-09","cave":5,"t":1.6},{"date":"2005-04-09","cave":6,"t":1.1},{"date":"2005-04-09","cave":7,"t":0.6},
{"date":"2005-04-14","cave":1,"t":3.5},{"date":"2005-04-14","cave":2,"t":3.0},{"date":"2005-04-14","cave":3,"t":2.5},{"date":"2005-04-14","cave":4,"t":2.3},{"date":"2005-04-14","cave":5,"t":1.8},{"date":"2005-04-14","cave":6,"t":1.5},{"date":"2005-04-14","cave":7,"t":0.6},
{"date":"2005-04-17","cave":1,"t":3.5},{"date":"2005-04-17","cave":2,"t":3.0},{"date":"2005-04-17","cave":3,"t":2.5},{"date":"2005-04-17","cave":4,"t":2.0},{"date":"2005-04-17","cave":5,"t":1.6},{"date":"2005-04-17","cave":6,"t":1.3},{"date":"2005-04-17","cave":7,"t":0.6},
{"date":"2005-04-22","cave":1,"t":3.5},{"date":"2005-04-22","cave":2,"t":3.0},{"date":"2005-04-22","cave":3,"t":2.3},{"date":"2005-04-22","cave":4,"t":1.6},{"date":"2005-04-22","cave":5,"t":1.0},{"date":"2005-04-22","cave":6,"t":0.3},{"date":"2005-04-22","cave":7,"t":-1.1},
{"date":"2005-04-25","cave":1,"t":3.5},{"date":"2005-04-25","cave":2,"t":3.0},{"date":"2005-04-25","cave":3,"t":2.6},{"date":"2005-04-25","cave":4,"t":2.3},{"date":"2005-04-25","cave":5,"t":1.6},{"date":"2005-04-25","cave":6,"t":1.1},{"date":"2005-04-25","cave":7,"t":0.0},
{"date":"2005-04-29","cave":1,"t":3.5},{"date":"2005-04-29","cave":2,"t":3.0},{"date":"2005-04-29","cave":3,"t":2.6},{"date":"2005-04-29","cave":4,"t":2.3},{"date":"2005-04-29","cave":5,"t":1.8},{"date":"2005-04-29","cave":6,"t":1.5},{"date":"2005-04-29","cave":7,"t":1.1},
{"date":"2005-05-04","cave":1,"t":3.5},{"date":"2005-05-04","cave":2,"t":3.1},{"date":"2005-05-04","cave":3,"t":2.8},{"date":"2005-05-04","cave":4,"t":2.5},{"date":"2005-05-04","cave":5,"t":2.1},{"date":"2005-05-04","cave":6,"t":1.8},{"date":"2005-05-04","cave":7,"t":1.6},
{"date":"2005-05-07","cave":1,"t":3.6},{"date":"2005-05-07","cave":2,"t":3.1},{"date":"2005-05-07","cave":3,"t":3.0},{"date":"2005-05-07","cave":4,"t":2.8},{"date":"2005-05-07","cave":5,"t":2.6},{"date":"2005-05-07","cave":6,"t":2.3},{"date":"2005-05-07","cave":7,"t":1.8},
{"date":"2005-05-09","cave":1,"t":4.4},{"date":"2005-05-09","cave":2,"t":3.6},{"date":"2005-05-09","cave":3,"t":3.1},{"date":"2005-05-09","cave":4,"t":3.0},{"date":"2005-05-09","cave":5,"t":2.8},{"date":"2005-05-09","cave":6,"t":2.3},{"date":"2005-05-09","cave":7,"t":1.8},
{"date":"2005-05-12","cave":1,"t":3.5},{"date":"2005-05-12","cave":2,"t":3.2},{"date":"2005-05-12","cave":3,"t":2.8},{"date":"2005-05-12","cave":4,"t":2.5},{"date":"2005-05-12","cave":5,"t":2.2},{"date":"2005-05-12","cave":6,"t":2.0},{"date":"2005-05-12","cave":7,"t":1.6}
]
},
"encoding": {
"x": {"field": "date", "type": "temporal",
 "scale": {"type": "utc", "domain": [{"year":2004,"month":9,"date":10,"hours":12,"utc":true},{"year":2005,"month":5,"date":13,"hours":12,"utc":true}]},
 "axis": {"title": "Date", "labelExpr": "utcFormat(datum.value, '%-d.%-m.%Y')", "labelAngle": 270, "labelAlign": "right", "labelBaseline": "middle",
  "values": [{"year":2004,"month":9,"date":11,"utc":true},{"year":2004,"month":9,"date":22,"utc":true},{"year":2004,"month":10,"date":3,"utc":true},{"year":2004,"month":10,"date":14,"utc":true},{"year":2004,"month":10,"date":25,"utc":true},{"year":2004,"month":11,"date":5,"utc":true},{"year":2004,"month":11,"date":16,"utc":true},{"year":2004,"month":11,"date":27,"utc":true},{"year":2004,"month":12,"date":8,"utc":true},{"year":2004,"month":12,"date":19,"utc":true},{"year":2004,"month":12,"date":30,"utc":true},{"year":2005,"month":1,"date":10,"utc":true},{"year":2005,"month":1,"date":21,"utc":true},{"year":2005,"month":2,"date":1,"utc":true},{"year":2005,"month":2,"date":12,"utc":true},{"year":2005,"month":2,"date":23,"utc":true},{"year":2005,"month":3,"date":6,"utc":true},{"year":2005,"month":3,"date":17,"utc":true},{"year":2005,"month":3,"date":28,"utc":true},{"year":2005,"month":4,"date":8,"utc":true},{"year":2005,"month":4,"date":19,"utc":true},{"year":2005,"month":4,"date":30,"utc":true},{"year":2005,"month":5,"date":11,"utc":true}],
  "grid": false, "ticks": false, "domain": false, "labelPadding": 14, "labelFontSize": 18, "labelColor": "black", "labelFont": "Liberation Sans", "labelOverlap": false, "labelBound": false, "labelFlush": false,
  "titleFont": "Liberation Sans", "titleFontSize": 18, "titleFontWeight": "bold", "titleColor": "black", "titlePadding": 10}},
"y": {"field": "t", "type": "quantitative",
 "scale": {"domain": [-25, 15], "nice": false, "zero": false},
 "axis": {"title": "Temperature  °C", "values": [-25, -20, -15, -10, -5, 0, 5, 10, 15], "format": ".1f",
  "grid": true, "gridColor": "#8c8c8c", "gridWidth": 1, "domainColor": "#808080", "tickColor": "#808080", "tickSize": 5,
  "labelFontSize": 17, "labelColor": "black", "labelFont": "Liberation Sans", "labelPadding": 10, "labelFlush": false, "labelOverlap": false,
  "titleFont": "Liberation Sans", "titleFontSize": 20, "titleFontWeight": "bold", "titleColor": "black", "titlePadding": 7}}
},
"layer": [
 {"data": {"name": "air"}, "mark": {"type": "line", "color": "#808080", "strokeWidth": 1, "clip": true}},
 {"data": {"name": "caves"}, "mark": {"type": "line", "color": "black", "strokeWidth": 3, "strokeJoin": "round", "clip": true},
  "encoding": {"detail": {"field": "cave", "type": "nominal"}}}
]
}
